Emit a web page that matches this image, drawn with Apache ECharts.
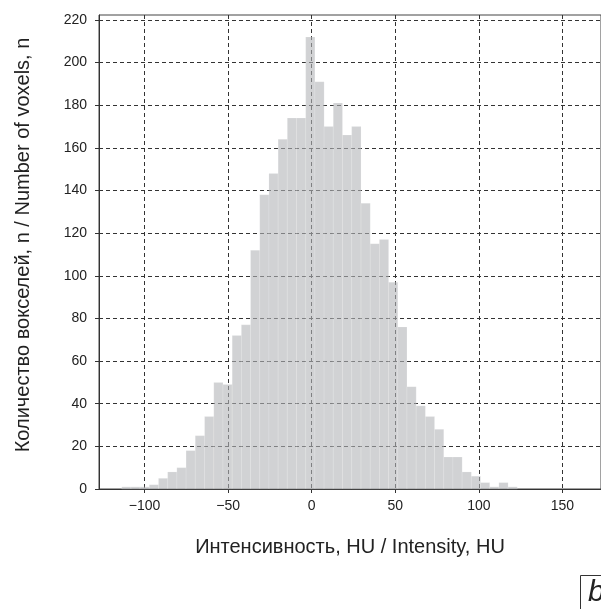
<!DOCTYPE html>
<html>
<head>
<meta charset="utf-8">
<script src="https://cdn.jsdelivr.net/npm/echarts@6/dist/echarts.min.js"></script>
<style>html,body{margin:0;padding:0;background:#fff;}#c{width:601px;height:609px;}</style>
</head>
<body>
<div id="c"></div>
<script>
// Histogram bin left edges (HU), last value is the right edge of the last bin
const binEdges = [-113.7,-108.2,-102.7,-97.2,-91.7,-86.2,-80.7,-75.2,-69.7,-64.1,-58.6,-53.1,-47.6,-42.1,-36.6,-31.1,-25.6,-20.1,-14.6,-9.1,-3.6,1.9,7.4,12.9,18.4,23.9,29.5,35.0,40.5,46.0,51.5,57.0,62.5,68.0,73.5,79.0,84.5,90.0,95.5,101.0,106.5,112.0,117.5,123.0];
// Voxel counts per bin
const counts = [1,1,1,2,5,8,10,18,25,34,50,49,72,77,112,138,148,164,174,174,212,191,170,181,166,170,134,115,117,97,76,48,39,34,28,15,15,8,6,3,1,3,1];
const xTicks = [-100,-50,0,50,100,150];
const yTicks = [0,20,40,60,80,100,120,140,160,180,200,220];
const xTitle = 'Интенсивность, HU / Intensity, HU';
const yTitle = 'Количество вокселей, n / Number of voxels, n';
const panelLabel = 'b';

const data = counts.map((c, i) => [binEdges[i], binEdges[i + 1], c]);
const FONT = '"Liberation Sans", Arial, sans-serif';

const chart = echarts.init(document.getElementById('c'), null, {renderer: 'canvas'});
chart.setOption({
  animation: false,
  backgroundColor: '#fff',
  grid: {left: 99, right: -2, top: 15, bottom: 120, show: true, borderColor: '#444', borderWidth: 1, backgroundColor: 'transparent'},
  xAxis: {
    type: 'value', min: -127.3, max: 173.1,
    name: xTitle, nameLocation: 'middle', nameGap: 48,
    nameTextStyle: {fontFamily: FONT, fontSize: 20, color: '#222'},
    axisLine: {show: true, onZero: false, lineStyle: {color: '#333', width: 1}},
    axisTick: {show: true, inside: false, length: 4, customValues: xTicks, lineStyle: {color: '#333'}},
    axisLabel: {customValues: xTicks, margin: 10, fontFamily: FONT, fontSize: 14, color: '#222',
      formatter: v => (v < 0 ? '\u2212' + Math.abs(v) : String(v))},
    splitLine: {show: true, lineStyle: {color: '#333', type: [4, 3], width: 1}}
  },
  yAxis: {
    type: 'value', min: 0, max: 222.3,
    name: yTitle, nameLocation: 'middle', nameGap: 66, nameRotate: 90,
    nameTextStyle: {fontFamily: FONT, fontSize: 20, color: '#222', padding: [0, 0, 0, 14]},
    axisLine: {show: true, onZero: false, lineStyle: {color: '#333', width: 1}},
    axisTick: {show: true, inside: false, length: 4, customValues: yTicks, lineStyle: {color: '#333'}},
    axisLabel: {customValues: yTicks, margin: 12, fontFamily: FONT, fontSize: 14, color: '#222'},
    splitLine: {show: true, lineStyle: {color: '#333', type: [4, 3], width: 1}}
  },
  series: [{
    type: 'custom',
    encode: {x: [0, 1], y: 2},
    data: data,
    renderItem: function (params, api) {
      const p0 = api.coord([api.value(0), api.value(2)]);
      const p1 = api.coord([api.value(1), 0]);
      return {
        type: 'rect',
        shape: {x: p0[0], y: p0[1], width: p1[0] - p0[0], height: p1[1] - p0[1]},
        style: {fill: 'rgba(178,180,184,0.6)', stroke: 'rgba(255,255,255,0.25)', lineWidth: 0.6}
      };
    }
  }],
  graphic: [
    {type: 'rect', left: 578, top: 573, shape: {width: 40, height: 50}, style: {fill: 'none', stroke: '#333', lineWidth: 1}},
    {type: 'text', left: 588, top: 578, style: {text: panelLabel, fontFamily: FONT, fontSize: 30, fontStyle: 'italic', fill: '#222'}}
  ]
});
</script>
</body>
</html>
